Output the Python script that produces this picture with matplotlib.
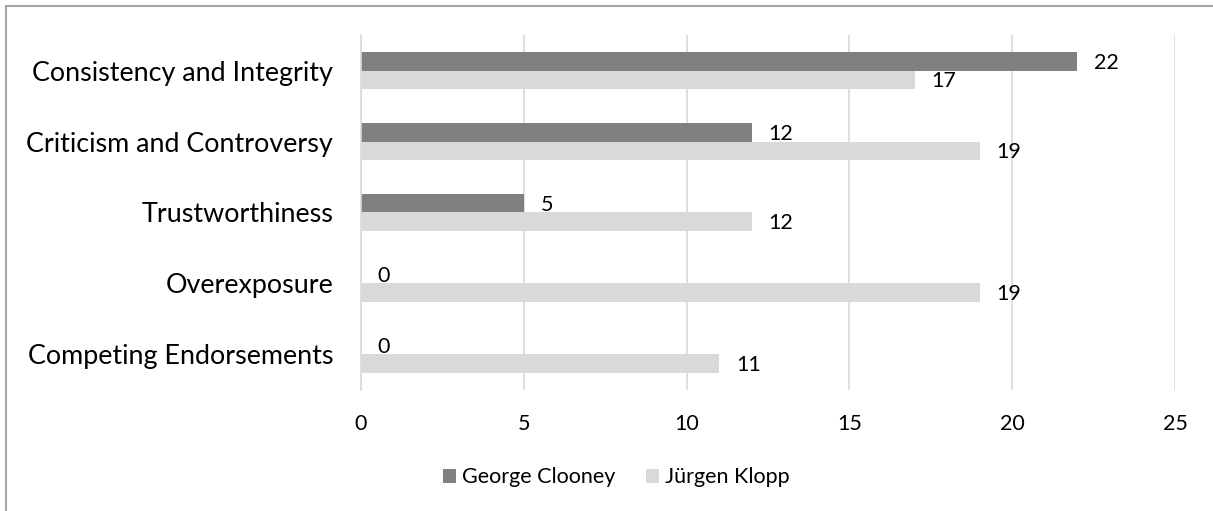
import numpy as np
from matplotlib import pyplot as plt
from matplotlib.patches import Rectangle

# data (top to bottom)
categories = ["Consistency and Integrity", "Criticism and Controversy", "Trustworthiness",
              "Overexposure", "Competing Endorsements"]
clooney = [22, 12, 5, 0, 0]
klopp = [17, 19, 12, 19, 11]
series_names = ["George Clooney", "Jürgen Klopp"]

plt.rcParams['font.family'] = ['Lato', 'DejaVu Sans']

fig = plt.figure(figsize=(12.13, 5.11), dpi=100)
ax = fig.add_axes([0.2976, 0.2368, 0.6711, 0.6947])

y = np.arange(len(categories))
h = 0.26
bars1 = ax.barh(y - h / 2, clooney, height=h, color="#808080", label=series_names[0])
bars2 = ax.barh(y + h / 2, klopp, height=h, color="#d9d9d9", label=series_names[1])

# data labels
for bars in (bars1, bars2):
    for b in bars:
        w = b.get_width()
        ax.annotate("%d" % w, (w, b.get_y() + b.get_height() / 2), xytext=(12, -1),
                    textcoords="offset points", va="center", ha="left", fontsize=15.5)

ax.set_xlim(0, 25)
ax.set_ylim(len(categories) - 0.5, -0.5)
ax.set_xticks(range(0, 26, 5))
ax.set_yticks(y)
ax.set_yticklabels(categories, fontsize=19.4)
ax.tick_params(axis="x", labelsize=15.5, length=0, pad=17)
ax.tick_params(axis="y", length=0, pad=20)

ax.grid(axis="x", color="#d9d9d9", linewidth=1.2)
ax.set_axisbelow(True)
for s in ["top", "right", "bottom"]:
    ax.spines[s].set_visible(False)
ax.spines["left"].set_color("#d9d9d9")
ax.spines["left"].set_linewidth(1.2)

fig.legend(loc="center", bbox_to_anchor=(0.508, 0.066), ncol=2, frameon=False, fontsize=15.5,
           handlelength=0.6, handleheight=0.6, handletextpad=0.3, columnspacing=1.4)

# chart border (only top and left show in the crop)
fig.patches.append(Rectangle((0.005, -0.05), 1.1, 1.038, transform=fig.transFigure,
                             fill=False, edgecolor="#a6a6a6", linewidth=1.5))

plt.savefig("out.png", dpi=100)
